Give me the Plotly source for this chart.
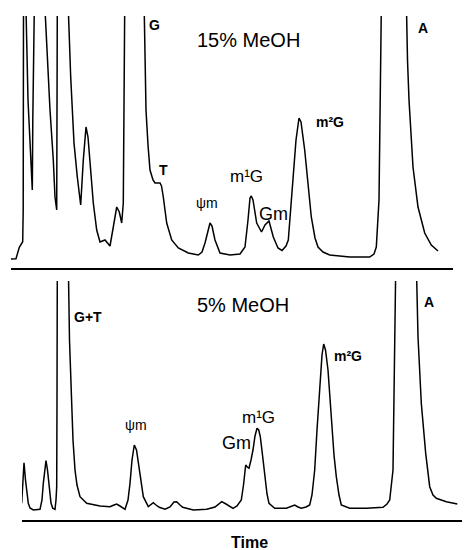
import plotly.graph_objects as go

W, H = 466, 550
FONT = "Liberation Sans, Arial, sans-serif"

# ---- 15% MeOH chromatogram (time units, detector signal) ----
top_time = [10, 16, 19.3, 22.7, 23.2, 23.5, 24.7, 26, 28, 30, 32.3, 32.8, 33.1, 39, 45,
            50, 53.3, 55, 56.7, 57.3, 62.8, 68.3, 70.7, 74, 77.3, 80.7, 83.3, 86, 88,
            90, 93.3, 96.7, 100, 105, 110, 113.3, 116.7, 119.3, 121.7, 123.3, 124.3,
            124.7, 134.4, 144, 145, 146, 148, 150, 153, 155, 158, 160, 161.5, 163.3,
            166.7, 171.7, 178.3, 188.3, 198.3, 202, 205, 208, 210, 212, 215, 220, 230,
            240, 245, 248, 250, 251.3, 253, 256.7, 261.5, 265, 269, 273.3, 278, 282,
            286, 288.3, 291.3, 293.3, 296, 299, 301, 304.7, 308, 311.3, 315, 318, 323,
            329.7, 349.7, 369.7, 374, 376.3, 379, 380.5, 381.3, 393.8, 406.3, 407.5,
            409, 411, 413, 418, 424.7, 431.3, 438]
top_signal = [0, 0.3, 11.7, 17.3, 49, 250, 400, 250, 159, 109, 69, 139, 250, 600, 250,
              149, 99, 62, 49, 250, 500, 250, 182, 116, 82, 54, 99, 132, 122,
              99, 56, 29, 17, 19, 13, 32, 52, 47, 36, 56, 149,
              250, 800, 250, 199, 149, 114, 89, 79, 76, 76, 76, 73, 62,
              36, 19, 11, 6, 4, 7, 16, 29, 36, 33, 19, 6, 4,
              5, 12, 39, 61, 63, 59, 36, 27, 34, 38, 22, 11, 8.5,
              13, 19, 59, 82, 119, 141, 137, 109, 74, 42, 21, 12, 7,
              4, 2, 2, 5, 12, 59, 159, 250, 900, 250, 199,
              159, 119, 92, 52, 26, 14, 8]

# ---- 5% MeOH chromatogram ----
bot_time = [21.7, 22.7, 24, 25.5, 28.3, 30, 33.3, 40, 42, 43.3, 46, 47.5, 49.3, 51, 52.7,
            55, 56, 56.7, 57, 57.3, 62.8, 68.3, 69.5, 71.7, 73, 75, 77, 80, 86.7, 100,
            110, 114, 116.7, 120, 125, 128, 130, 132, 134.3, 136.5, 139.3, 143.3, 148.3,
            151, 153.3, 156, 159.3, 165, 170, 174, 176.7, 180, 182.7, 193.3, 206.7, 215,
            221.7, 226, 230, 233, 237, 241.3, 243.5, 245.7, 247.3, 249, 251, 253, 255,
            257, 258.7, 260.3, 262.5, 264.7, 267, 269, 274.7, 286.3, 291, 294.7, 298,
            301.3, 306, 309.7, 312, 314.7, 317, 319.7, 322, 323.7, 325.5, 328, 331.3,
            334, 336.3, 339, 341.3, 349.7, 366.3, 383, 387, 389.7, 393, 394.7, 395.7,
            406, 416.3, 418, 421.3, 425.7, 429.7, 433, 436.3, 446.3, 457.3]
bot_signal = [6.7, 30, 47.3, 30, 6.7, 2, 0, 0.7, 10, 26.7, 49.3, 40, 20, 7, 1.7,
              0.7, 10, 23.3, 110, 240, 600, 240, 170, 106.7, 70, 40, 25, 13.3, 6.7, 4,
              3.3, 5, 6, 4, 0.7, 10, 26.7, 50, 65, 60, 40, 13.3, 3.3,
              6, 7.3, 5, 2.7, 0.7, 3, 8, 8.3, 5, 2.7, 0, 0.7, 3,
              8.3, 6, 3.3, 1.7, 4, 10, 25, 45, 43, 41.7, 50, 60, 74,
              81.7, 80, 73.3, 55, 33.3, 16, 6.7, 1.7, 1.7, 4, 5, 3,
              1.7, 3, 5, 15, 40, 80, 123.3, 155, 166, 160, 140, 90,
              55, 33.3, 15, 5, 1.7, 1.7, 2.7, 6, 10, 40, 140, 240,
              700, 240, 173.3, 106.7, 56.7, 23.3, 15, 11.7, 8.3, 6]

top_labels = ["G", "15% MeOH", "T", "ψm", "m¹G", "Gm", "m²G", "A"]
bot_labels = ["G+T", "5% MeOH", "ψm", "Gm", "m¹G", "m²G", "A"]
x_title = "Time"

fig = go.Figure()
fig.add_trace(go.Scatter(x=top_time, y=top_signal, mode="lines",
                         line=dict(color="black", width=1.5), xaxis="x", yaxis="y",
                         hoverinfo="skip", showlegend=False))
fig.add_trace(go.Scatter(x=bot_time, y=bot_signal, mode="lines",
                         line=dict(color="black", width=1.5), xaxis="x2", yaxis="y2",
                         hoverinfo="skip", showlegend=False))

def px(x):
    return x / W

def py(y):
    return 1 - y / H

axis_common = dict(showgrid=False, zeroline=False, showticklabels=False, ticks="",
                   fixedrange=True)

fig.update_layout(
    width=W, height=H,
    margin=dict(l=0, r=0, t=0, b=0),
    paper_bgcolor="white", plot_bgcolor="white",
    xaxis=dict(domain=[px(11), px(453)], range=[11, 453], anchor="y",
               showline=True, linecolor="black", linewidth=2, **axis_common),
    yaxis=dict(domain=[py(268), py(16)], range=[-9, 243], anchor="x",
               showline=False, **axis_common),
    xaxis2=dict(domain=[px(22), px(462)], range=[22, 462], anchor="y2",
                showline=True, linecolor="black", linewidth=2, **axis_common),
    yaxis2=dict(domain=[py(519.5), py(281)], range=[-9.5, 229], anchor="x2",
                showline=False, **axis_common),
)

# label placements (pixel positions), sizes, weights
top_pos = [(154, 25, 14, True), (248, 40, 20, False), (163.5, 170, 14, True),
           (207, 203, 14, False), (246.5, 176, 17, False), (273, 213.5, 18, False),
           (330, 122, 14, True), (423, 28, 14, True)]
bot_pos = [(87.5, 317, 14, True), (243, 305, 20, False), (136, 425, 14, False),
           (236, 443, 18, False), (258, 417, 17, False), (348, 356, 14, True),
           (429, 302, 14, True)]

for txt, (x, y, s, b) in list(zip(top_labels, top_pos)) + list(zip(bot_labels, bot_pos)):
    fig.add_annotation(x=px(x), y=py(y), xref="paper", yref="paper",
                       text=f"<b>{txt}</b>" if b else txt, showarrow=False,
                       xanchor="center", yanchor="middle",
                       font=dict(family=FONT, size=s, color="black"))

fig.add_annotation(x=px(250), y=py(542), xref="paper", yref="paper",
                   text=f"<b>{x_title}</b>", showarrow=False,
                   xanchor="center", yanchor="middle",
                   font=dict(family=FONT, size=16, color="black"))

fig.write_html("out.html",
               config={"displayModeBar": False, "staticPlot": True},
               post_script="document.body.style.margin='0';document.body.style.overflow='hidden';")
